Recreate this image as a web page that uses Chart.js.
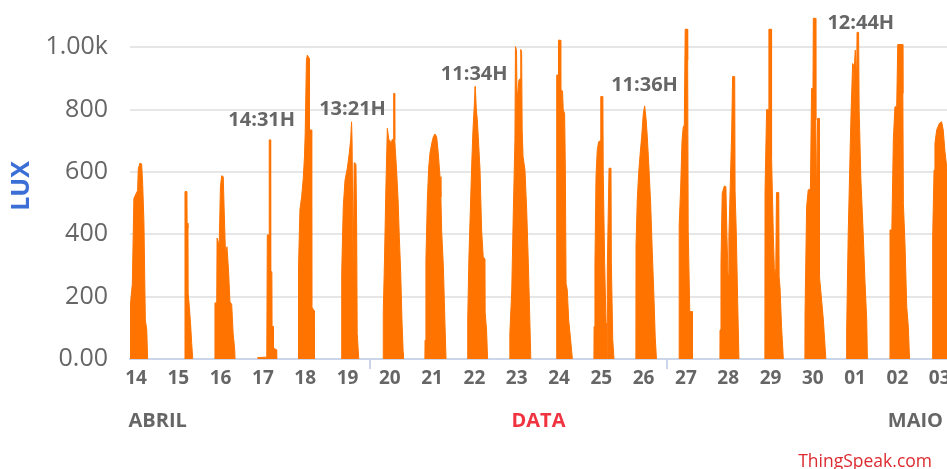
<!DOCTYPE html>
<html><head><meta charset="utf-8">
<script src="https://cdn.jsdelivr.net/npm/chart.js@4.4.1/dist/chart.umd.min.js"></script>
<style>html,body{margin:0;padding:0;background:#fff;}canvas{display:block;}</style>
</head><body>
<canvas id="c" width="947" height="469"></canvas>
<script>
// Tick labels (day of month) and the day index each one belongs to
const tickDays   = [14,15,16,17,18,19,20,21,22,23,24,25,26,27,28,29,30,31,32,33];
const tickLabels = ['14','15','16','17','18','19','20','21','22','23','24','25','26','27','28','29','30','01','02','03'];
const weekTicks  = [20,27];
const yTicks      = [0,200,400,600,800,1000];
const yTickLabels = ['0.00','200','400','600','800','1.00k'];

// Readings per day: [hour of day, lux]
const d14 = [[7.6,80],[7.9,180],[8.9,240],[9.8,515],[11.0,530],[11.9,540],[12.3,610],[13.2,628],[14.2,626],[14.8,560],[15.5,440],[16.3,125],[17.1,93],[17.6,0]];
const d15 = [[14.7,0],[14.8,537],[15.9,537],[16.0,436],[16.5,420],[16.6,211],[17.3,165],[18.0,110],[18.6,50],[19.2,0]];
const d16 = [[7.7,0],[7.8,180],[8.8,180],[9.0,388],[10.2,366],[10.9,553],[11.6,588],[12.5,585],[13.0,484],[13.8,334],[14.6,360],[15.5,285],[16.3,184],[17.3,175],[18.1,83],[19.0,30],[19.2,0]];
const d17 = [[7.8,4],[10.0,5],[13.2,6],[13.5,398],[14.5,398],[14.6,703],[15.3,703],[15.4,280],[16.1,280],[16.2,104],[16.9,104],[17.0,35],[18.6,30],[18.8,0]];
const d18 = [[7.1,0],[7.2,296],[8.0,478],[9.0,521],[9.9,580],[10.6,650],[11.0,725],[11.7,960],[12.2,975],[13.2,965],[13.4,735],[14.5,735],[14.7,168],[16.0,155],[16.2,0]];
const d19 = [[7.6,0],[7.7,275],[8.6,489],[9.6,574],[10.9,612],[12.0,660],[12.8,703],[13.3,761],[13.6,700],[14.2,285],[14.8,630],[15.8,625],[16.2,420],[16.5,82],[17.4,0]];
const d20 = [[7.2,0],[7.3,150],[8.0,320],[8.8,553],[9.6,740],[10.4,705],[11.1,700],[11.7,690],[12.4,705],[13.0,700],[13.2,852],[13.6,852],[13.8,703],[14.9,600],[15.7,510],[16.4,392],[17.2,275],[17.9,125],[18.6,20],[18.7,0]];
const d21 = [[6.9,0],[7.0,60],[7.5,318],[8.3,510],[9.1,617],[9.8,660],[10.8,692],[11.7,713],[12.6,722],[13.6,713],[14.5,660],[15.5,585],[16.0,520],[16.4,414],[17.4,296],[18.3,114],[18.9,0]];
const d22 = [[7.1,0],[7.2,125],[7.9,328],[8.7,478],[9.5,628],[10.2,735],[10.9,809],[11.4,874],[11.6,860],[12.1,799],[12.6,772],[13.2,713],[14.2,606],[15.1,414],[16.0,328],[17.0,320],[17.1,150],[17.9,93],[18.5,0]];
const d23 = [[7.0,0],[7.1,80],[8.2,221],[9.1,478],[10.0,702],[10.3,1002],[10.9,990],[11.2,831],[12.3,895],[13.0,900],[13.3,993],[13.8,985],[14.1,735],[14.6,650],[15.7,606],[16.7,473],[17.6,307],[18.5,114],[19.0,0]];
const d24 = [[9.6,0],[9.7,911],[10.6,911],[10.7,1023],[11.8,1023],[12.0,719],[12.3,863],[13.0,860],[13.4,799],[14.2,788],[14.6,610],[15.0,243],[15.7,221],[16.5,125],[17.6,61],[18.6,0]];
const d25 = [[6.8,0],[6.9,104],[7.4,307],[8.0,585],[8.7,670],[9.5,697],[10.3,700],[10.7,842],[11.9,842],[12.1,596],[12.9,307],[13.7,114],[14.0,0],[14.1,null],[14.3,0],[14.4,285],[15.1,521],[15.4,612],[16.5,612],[16.7,307],[17.5,61],[18.2,0]];
const d26 = [[6.6,0],[6.7,366],[7.4,510],[8.2,596],[9.0,655],[9.9,713],[10.8,785],[11.6,812],[12.4,770],[13.1,713],[14.1,606],[15.0,499],[15.9,350],[16.9,195],[17.6,70],[18.3,0]];
const d27 = [[7.1,0],[7.2,430],[8.0,545],[8.8,700],[9.5,745],[10.1,750],[10.6,1058],[11.9,1058],[12.0,959],[12.3,414],[13.2,152],[14.6,152],[14.7,0]];
const d28 = [[6.3,0],[6.35,93],[6.9,307],[7.6,531],[8.8,555],[9.7,553],[10.3,392],[10.9,270],[11.4,392],[12.2,563],[13.0,735],[13.5,906],[14.7,906],[14.9,540],[15.6,403],[16.4,179],[17.1,0]];
const d29 = [[7.8,0],[7.9,540],[8.8,800],[9.9,800],[10.1,1058],[11.3,1058],[11.6,649],[12.6,400],[13.3,264],[14.0,290],[14.4,534],[15.7,534],[15.9,264],[16.4,230],[17.3,100],[18.3,0]];
const d30 = [[6.5,0],[6.6,150],[7.5,489],[8.4,542],[9.1,545],[9.4,424],[10.3,868],[11.1,868],[11.3,1093],[12.6,1093],[12.7,767],[13.2,489],[13.7,772],[14.6,772],[14.8,264],[16.0,189],[17.0,125],[18.4,0]];
const d01 = [[6.1,0],[6.2,93],[7.1,403],[8.1,649],[8.7,788],[9.6,948],[10.3,940],[10.45,600],[10.6,940],[11.1,991],[11.9,895],[12.1,1048],[13.0,1048],[13.3,800],[14.3,574],[15.6,403],[16.6,250],[17.6,125],[18.0,0]];
const d02 = [[6.7,0],[6.8,414],[7.5,414],[7.7,300],[7.9,403],[8.7,703],[9.6,809],[10.6,809],[11.2,1009],[13.9,1009],[14.1,852],[14.4,499],[15.3,371],[16.3,168],[17.2,104],[17.9,0]];
const d03 = [[6.9,0],[7.0,392],[7.8,606],[8.3,692],[9.3,735],[10.8,756],[12.1,761],[13.0,735],[14.0,665],[15.3,600]];

// Peak-time annotations, anchored in data units (day index, lux)
const annotText = ['14:31H','13:21H','11:34H','11:36H','12:44H'];
const annotX    = [17.430, 19.577, 22.454, 26.480, 31.593];
const annotY    = [767, 800, 914, 879, 1078];

const dayTable = [[14,d14],[15,d15],[16,d16],[17,d17],[18,d18],[19,d19],[20,d20],[21,d21],[22,d22],[23,d23],[24,d24],[25,d25],[26,d26],[27,d27],[28,d28],[29,d29],[30,d30],[31,d01],[32,d02],[33,d03]];

const points = [];
dayTable.forEach(([day, rows]) => {
  rows.forEach(([h, v]) => points.push({x: day + h / 24, y: v}));
  points.push({x: day + 0.999, y: null});
});

const LABEL_HOUR = 11;          // day labels sit at late morning
const X_MIN = 14.3165, X_MAX = 33.631, Y_MAX = 1151.8;
const labelPos = tickDays.map(d => d + LABEL_HOUR / 24);
const near = (a, b) => Math.abs(a - b) < 1e-6;

const textPlugin = {
  id: 'texts',
  afterDatasetsDraw(chart) {
    const c = chart.ctx, xs = chart.scales.x, ys = chart.scales.y;
    c.save();
    c.textBaseline = 'middle';
    c.textAlign = 'center';
    c.fillStyle = '#666666';
    c.font = 'bold 20px "Open Sans"';
    annotText.forEach((t, i) => c.fillText(t, xs.getPixelForValue(annotX[i]), ys.getPixelForValue(annotY[i])));
    c.restore();
  },
  afterDraw(chart) {
    const c = chart.ctx, a = chart.chartArea;
    c.save();
    c.textBaseline = 'middle';
    // y axis title
    c.save();
    c.translate(22, 186);
    c.rotate(-Math.PI / 2);
    c.textAlign = 'center';
    c.fillStyle = '#3b6fd6';
    c.font = 'bold 25px "Open Sans"';
    c.fillText('LUX', 0, 0);
    c.restore();
    // x axis titles
    c.font = 'bold 20px "Open Sans"';
    c.fillStyle = '#666666';
    c.textAlign = 'left';
    c.fillText('ABRIL', a.left - 1.5, 421);
    c.textAlign = 'right';
    c.fillText('MAIO', a.right - 4, 421);
    c.textAlign = 'center';
    c.fillStyle = '#ef3340';
    c.fillText('DATA', (a.left + a.right) / 2, 421);
    // credit
    c.font = '17.5px "Open Sans"';
    c.fillStyle = '#dc2a30';
    c.textAlign = 'right';
    c.textBaseline = 'alphabetic';
    c.fillText('ThingSpeak.com', 932, 466.5);
    c.restore();
  }
};

new Chart(document.getElementById('c').getContext('2d'), {
  type: 'line',
  data: {
    datasets: [{
      label: 'LUX',
      data: points,
      borderColor: '#ff7300',
      backgroundColor: '#ff7300',
      borderWidth: 1,
      pointRadius: 0,
      tension: 0,
      fill: 'origin',
      spanGaps: false
    }]
  },
  options: {
    responsive: false,
    animation: false,
    devicePixelRatio: 1,
    layout: { padding: 0 },
    plugins: { legend: { display: false }, tooltip: { enabled: false } },
    scales: {
      x: {
        type: 'linear',
        min: X_MIN, max: X_MAX,
        afterBuildTicks(s) {
          s.ticks = labelPos.concat(weekTicks).sort((p, q) => p - q).map(v => ({ value: v }));
        },
        afterFit(s) { s.height = 110; s.paddingLeft = 0; s.paddingRight = 0; },
        ticks: {
          autoSkip: false, maxRotation: 0, minRotation: 0, padding: -2,
          color: '#666666',
          font: { family: 'Open Sans', size: 19, weight: 'bold' },
          callback(value) {
            const i = labelPos.findIndex(p => near(p, value));
            return i >= 0 ? tickLabels[i] : '';
          }
        },
        grid: {
          drawOnChartArea: false, drawTicks: true, tickLength: 10, lineWidth: 2,
          color: ctx => (ctx.tick && weekTicks.some(w => near(w, ctx.tick.value))) ? '#ccd6eb' : 'rgba(0,0,0,0)'
        },
        border: { display: true, color: '#ccd6eb', width: 2 }
      },
      y: {
        type: 'linear',
        min: 0, max: Y_MAX,
        afterBuildTicks(s) { s.ticks = yTicks.map(v => ({ value: v })); },
        afterFit(s) { s.width = 130; s.paddingTop = 0; s.paddingBottom = 0; },
        ticks: {
          padding: 22, color: '#666666',
          font: { family: 'Open Sans', size: 25 },
          callback(value) { const i = yTicks.indexOf(value); return i >= 0 ? yTickLabels[i] : ''; }
        },
        grid: {
          drawTicks: false, lineWidth: 2,
          color: ctx => (ctx.tick && ctx.tick.value === 0) ? 'rgba(0,0,0,0)' : '#e6e6e6'
        },
        border: { display: false }
      }
    }
  },
  plugins: [textPlugin]
});
</script>
</body></html>
